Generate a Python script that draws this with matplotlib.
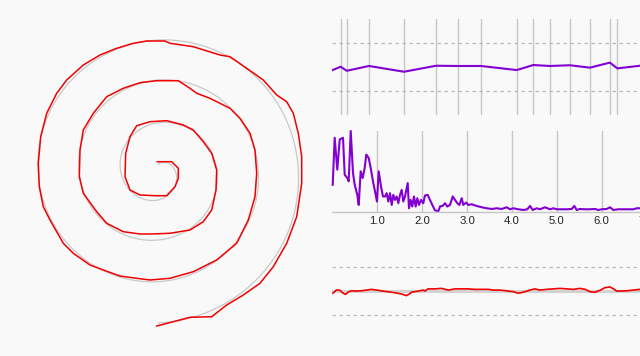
import matplotlib
matplotlib.use("Agg")
import matplotlib.pyplot as plt
import numpy as np

plt.rcParams["font.family"] = ["Liberation Sans", "DejaVu Sans"]

drawn_x = [157.3, 171.7, 178.3, 178.3, 175, 166.7, 155, 140, 130, 125, 125.7, 130,
           136.7, 150, 166.7, 183.3, 193.3, 203.3, 211.7, 216.7, 216, 211.7, 203.3,
           190, 170, 150, 140, 123.3, 106.7, 96.7, 83.3, 79.3, 80, 83.3, 93.3, 106.7,
           123.3, 140, 156.7, 178.3, 190, 196.7, 210, 230, 240, 250, 255, 256.7, 255,
           248.3, 236.7, 216.7, 193.3, 170, 150, 136.7, 120, 103.3, 90, 73.3, 63.3,
           50, 43.3, 39.3, 38.3, 40.7, 46.7, 56.7, 66.7, 83.3, 100, 116.7, 133.3,
           146.7, 165, 170, 193.3, 220, 230, 246.7, 263.3, 276.7, 286.7, 293.3,
           298.3, 301.7, 301.7, 296.7, 286.7, 273.3, 260, 243.3, 226.7, 211.7, 190,
           173.3, 156.7]
drawn_y = [161.7, 161.7, 168.3, 178.3, 186.7, 195.7, 195.7, 195, 190, 176.7, 153.3,
           136.7, 125.7, 121.7, 120.7, 125, 130, 141.7, 153.3, 170, 190, 210, 221.7,
           230, 233.3, 234, 234, 231.7, 223.3, 211.7, 193.3, 176.7, 150, 130, 113.3,
           96.7, 88.3, 82.7, 80.7, 80.7, 88.3, 93.3, 98.3, 108.3, 118.3, 133.3, 150,
           173.3, 196.7, 220, 243.3, 260, 271.7, 278.3, 280, 278.3, 276, 270, 265,
           253.3, 243.3, 220, 206.7, 186.7, 163.3, 136.7, 113.3, 93.3, 80, 65, 55,
           48.3, 43.3, 41, 41, 43.3, 46.7, 55, 56.7, 68.3, 80, 95, 101.7, 113.3,
           133.3, 156.7, 183.3, 216.7, 243.3, 266.7, 283.3, 295, 305, 316.7, 317.3,
           321.7, 326]

# template spiral: quarter-turn readings (deg clockwise from east, radius px)
template_deg = [-90, 0, 90, 180, 270, 360, 450, 540, 630, 720, 810, 900, 990, 1080, 1170]
template_r = [7, 17, 28.8, 37.6, 48.5, 58.7, 68.8, 79.3, 91.2, 100, 110.5, 120.3,
              131.2, 140, 151.8]
spiral_cx, spiral_cy = 158.3, 171.2

# stroke breaks and the purple trace through them
break_t = [0.185, 0.318, 0.815, 1.595, 2.307, 2.79, 3.31, 4.105, 4.474, 4.846,
           5.29, 5.736, 6.18, 6.345]
stroke_t = [0.007] + break_t + [6.85, 7.3]
stroke_v = [-0.14, 0.0, -0.17, 0.03, -0.21, 0.04, 0.03, 0.03, -0.14, 0.07, 0.03,
            0.06, -0.04, 0.17, -0.07, 0.04, 0.05]

# spectrum
spec_f = [0.007, 0.051, 0.109, 0.163, 0.236, 0.274, 0.332, 0.363, 0.408, 0.459,
          0.497, 0.555, 0.586, 0.630, 0.675, 0.719, 0.755, 0.808, 0.853, 0.904,
          0.942, 0.993, 1.031, 1.089, 1.127,
          1.171, 1.209, 1.245, 1.283, 1.321, 1.356, 1.394, 1.432, 1.468, 1.506,
          1.543, 1.579, 1.617, 1.677, 1.706, 1.744, 1.779, 1.817, 1.855, 1.891,
          1.929, 1.973, 2.024, 2.062, 2.122, 2.173, 2.225, 2.285, 2.359,
          2.40, 2.456, 2.508, 2.559, 2.619, 2.680, 2.731, 2.782, 2.827, 2.880,
          2.916, 2.976, 3.027, 3.102, 3.214, 3.325, 3.437, 3.548, 3.659, 3.771,
          3.882, 3.955, 4.029, 4.141, 4.252, 4.341, 4.401, 4.461, 4.550,
          4.624, 4.735, 4.846, 4.920, 4.996, 5.107, 5.218, 5.330, 5.388, 5.441,
          5.514, 5.626, 5.737, 5.849, 5.922, 5.998, 6.109, 6.183, 6.256, 6.367,
          6.479, 6.590, 6.702, 6.777, 6.850, 7.0, 7.2]
spec_p = [27.3, 74, 42.3, 72.3, 74, 37.3, 34, 30.7, 80.7, 39,
          27.3, 17.3, 7.3, 40.7, 34, 44, 57.3, 54, 44, 30.7,
          22.3, 10.7, 40.7, 24, 15.7,
          15.7, 19, 10.7, 19, 7.3, 17.3, 12.3, 15.7, 9, 17.3,
          22.3, 10.7, 15.7, 29, 4, 12.3, 5.7, 15.7, 5.7, 14,
          7.3, 12.3, 9, 16.7, 17.3, 12.3, 7.3, 2, 1,
          6, 6.3, 9, 5.7, 7.3, 15.7, 12.3, 9, 7.3, 14,
          7.3, 9.7, 7.3, 8, 6.3, 5, 4, 3.3, 4, 3.3,
          5, 3, 4, 3, 2.3, 3, 6.3, 2.3, 4,
          3, 5, 3, 4, 3, 3, 3, 3.3, 6.3, 2.3,
          3.3, 3, 3, 3.3, 2.3, 3, 3.3, 5, 2.3, 3,
          3, 3, 3, 4, 4, 3.5, 3]

# pressure / residual trace
res_t = [0.01, 0.09, 0.16, 0.24, 0.29, 0.35, 0.42, 0.53, 0.64, 0.76, 0.87, 0.98,
         1.09, 1.24, 1.39, 1.53, 1.65, 1.70, 1.76, 1.91, 2.02, 2.06, 2.13, 2.28,
         2.43, 2.58, 2.73, 2.87, 3.02, 3.17, 3.32, 3.47, 3.58, 3.73, 3.88, 4.03,
         4.14, 4.25, 4.40, 4.51, 4.62, 4.77, 4.92, 5.07, 5.22, 5.37, 5.51, 5.63,
         5.74, 5.85, 5.97, 6.07, 6.18, 6.26, 6.33, 6.41, 6.55, 6.70, 6.85, 7.0, 7.2]
res_v = [-0.10, 0.03, 0.03, -0.10, -0.15, -0.06, 0.0, -0.01, 0.0, 0.03, 0.06, 0.03,
         0.0, -0.04, -0.08, -0.13, -0.20, -0.15, -0.06, -0.01, 0.03, -0.01, 0.08, 0.08,
         0.10, 0.03, 0.08, 0.08, 0.08, 0.06, 0.06, 0.06, 0.03, 0.03, 0.0, -0.04,
         -0.10, -0.06, 0.03, 0.08, 0.03, 0.06, 0.08, 0.10, 0.08, 0.06, 0.10, 0.06,
         -0.04, -0.06, 0.03, 0.13, 0.16, 0.08, -0.01, -0.01, 0.0, 0.03, 0.06, 0.05, 0.04]

bg = "#f9f9f9"
purple = "#8200d2"
red = "#f00000"
grid_grey = "#c6c6c6"
dash_grey = "#b8b8b8"

W, H = 640, 356
fig = plt.figure(figsize=(W / 100, H / 100), dpi=100, facecolor=bg)


def px_rect(x0, y_top, x1, y_bottom):
    return [x0 / W, (H - y_bottom) / H, (x1 - x0) / W, (y_bottom - y_top) / H]


# template spiral on polar axes, radius in pixels
R = 160
ax_p = fig.add_axes(px_rect(spiral_cx - R, spiral_cy - R, spiral_cx + R, spiral_cy + R),
                    projection="polar")
ax_p.set_theta_direction(-1)
ax_p.set_ylim(0, R)
ax_p.axis("off")
(tmpl_line,) = ax_p.plot(np.deg2rad(template_deg), template_r, color="#c9c9c9", lw=0.9)
tmpl_line.get_path()._interpolation_steps = 60

# drawn spiral in pixel coordinates
ax_s = fig.add_axes([0, 0, 1, 1])
ax_s.set_xlim(0, W)
ax_s.set_ylim(H, 0)
ax_s.axis("off")
ax_s.plot(drawn_x, drawn_y, color=red, lw=1.1)

x0 = 332.4
unit = 44.9
x1 = x0 + 8 * unit

# top: strokes
ax1 = fig.add_axes(px_rect(x0, 18.7, x1, 114.7))
ax1.set_xlim(0, 8)
ax1.set_ylim(-2, 2)
ax1.axis("off")
for b in break_t:
    ax1.axvline(b, color=grid_grey, lw=1.0)
for yv in (-1, 1):
    ax1.axhline(yv, color=dash_grey, lw=0.9, dashes=(2.8, 2.8))
ax1.plot(stroke_t, stroke_v, color=purple, lw=1.5)

# middle: spectrum
ax2 = fig.add_axes(px_rect(x0, 131, x1, 212.3))
ax2.set_facecolor("none")
ax2.set_xlim(0, 8)
ax2.set_ylim(0, max(spec_p))
for s in ("top", "right", "left"):
    ax2.spines[s].set_visible(False)
ax2.spines["bottom"].set_color(grid_grey)
ax2.spines["bottom"].set_linewidth(1.0)
ax2.set_yticks([])
ax2.set_xticks([1, 2, 3, 4, 5, 6, 7])
ax2.set_xticklabels(["1.0", "2.0", "3.0", "4.0", "5.0", "6.0", "7.0"])
ax2.tick_params(axis="x", length=0, pad=3, labelsize=8.2, labelcolor="#222222")
ax2.grid(axis="x", color=grid_grey, lw=1.0)
ax2.plot(spec_f, spec_p, color=purple, lw=1.5, clip_on=False)

# bottom: residual
ax3 = fig.add_axes(px_rect(x0, 242.8, x1, 338.8))
ax3.set_xlim(0, 8)
ax3.set_ylim(-2, 2)
ax3.axis("off")
for yv in (-1, 1):
    ax3.axhline(yv, color=dash_grey, lw=0.9, dashes=(2.8, 2.8))
ax3.axhline(0, color="#d2d2d2", lw=2.2)
ax3.plot(res_t, res_v, color=red, lw=1.2)

fig.savefig("out.png", dpi=100, facecolor=bg)
